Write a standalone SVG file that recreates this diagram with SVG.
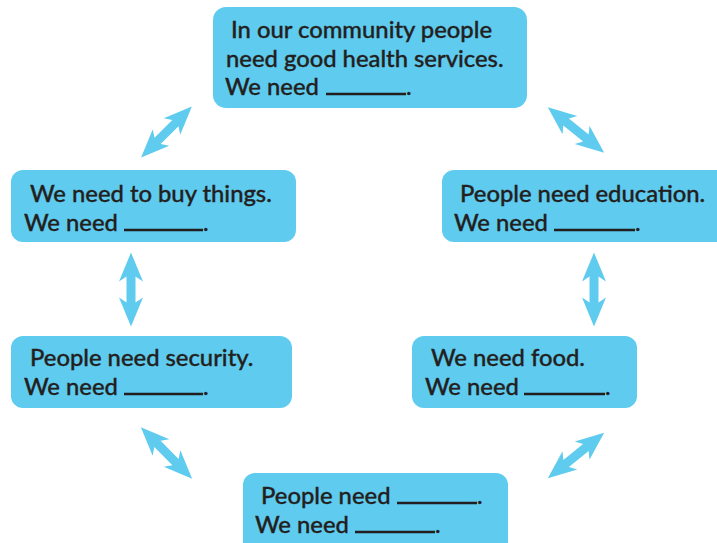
<svg xmlns="http://www.w3.org/2000/svg" width="717" height="543" viewBox="0 0 717 543">
<style>
.box{fill:#5ecbef}
.t{font-family:Lato,"Open Sans",sans-serif;font-size:23.8px;font-weight:500;fill:#231f20;stroke:#231f20;stroke-width:0.35}
.u{stroke:#231f20;stroke-width:2.4}
.ar{fill:#5ecbef}
</style>
<defs>
<path id="dbl" d="M37 0 L8 -12 L13 -4.5 L-13 -4.5 L-8 -12 L-37 0 L-8 12 L-13 4.5 L13 4.5 L8 12 Z"/>
</defs>
<g id="connectors" class="ar">
<use href="#dbl" transform="translate(166.5,132) rotate(-45) scale(0.97)"/>
<use href="#dbl" transform="translate(576,130) rotate(39) scale(0.98)"/>
<use href="#dbl" transform="translate(131,289.5) rotate(90)"/>
<use href="#dbl" transform="translate(594,289.5) rotate(90)"/>
<use href="#dbl" transform="translate(166.5,453) rotate(45) scale(0.98)"/>
<use href="#dbl" transform="translate(576,455.5) rotate(-39) scale(0.98)"/>
</g>
<g id="n-health">
<rect class="box" x="213" y="7" width="314" height="101" rx="13"/>
<text class="t" x="231" y="38">In our community people</text>
<text class="t" x="226" y="67">need good health services.</text>
<text class="t" x="225" y="95">We need</text>
<line class="u" x1="326" y1="94" x2="406" y2="94"/>
<text class="t" x="406" y="95">.</text>
</g>
<g id="n-buy">
<rect class="box" x="11" y="170" width="285" height="72" rx="12"/>
<text class="t" x="30" y="202">We need to buy things.</text>
<text class="t" x="24" y="231">We need</text>
<line class="u" x1="124" y1="230" x2="203" y2="230"/>
<text class="t" x="203" y="231">.</text>
</g>
<g id="n-education">
<rect class="box" x="442" y="170" width="287" height="72" rx="12"/>
<text class="t" x="460" y="202">People need education.</text>
<text class="t" x="454" y="231">We need</text>
<line class="u" x1="554" y1="230" x2="635" y2="230"/>
<text class="t" x="635" y="231">.</text>
</g>
<g id="n-security">
<rect class="box" x="11" y="336" width="281" height="72" rx="12"/>
<text class="t" x="30" y="366">People need security.</text>
<text class="t" x="24" y="395">We need</text>
<line class="u" x1="124" y1="394" x2="203" y2="394"/>
<text class="t" x="203" y="395">.</text>
</g>
<g id="n-food">
<rect class="box" x="412" y="336" width="225" height="72" rx="12"/>
<text class="t" x="431" y="366">We need food.</text>
<text class="t" x="425" y="395">We need</text>
<line class="u" x1="524" y1="394" x2="605" y2="394"/>
<text class="t" x="605" y="395">.</text>
</g>
<g id="n-people">
<rect class="box" x="243" y="473" width="265" height="82" rx="12"/>
<text class="t" x="261" y="504">People need</text>
<line class="u" x1="397" y1="503" x2="477" y2="503"/>
<text class="t" x="477" y="504">.</text>
<text class="t" x="255" y="533">We need</text>
<line class="u" x1="355" y1="532" x2="435" y2="532"/>
<text class="t" x="435" y="533">.</text>
</g>
</svg>
